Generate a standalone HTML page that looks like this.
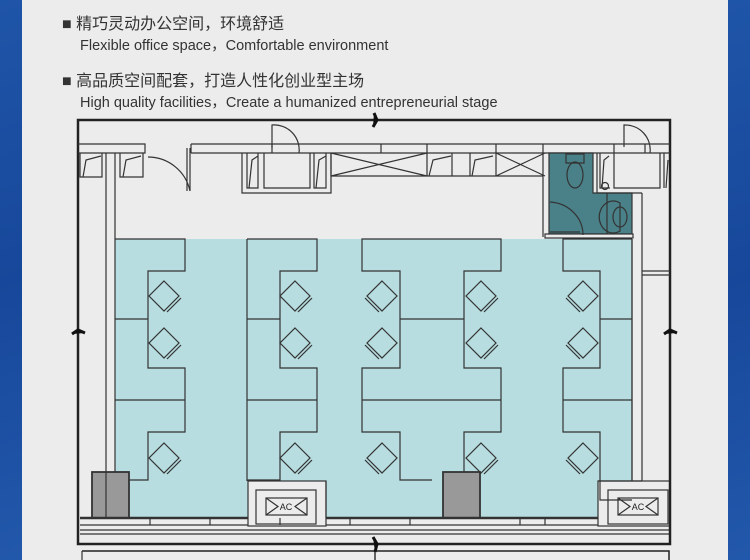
<!DOCTYPE html>
<html><head><meta charset="utf-8"><style>
html,body{margin:0;padding:0;width:750px;height:560px;overflow:hidden;background:#ececec;}
.t{position:absolute;font-family:"Liberation Sans","Noto Sans CJK SC",sans-serif;color:#333;white-space:nowrap}
</style></head><body>
<div style="position:absolute;left:0;top:0;width:22px;height:560px;background:linear-gradient(160deg,#1f55a8,#17479a 50%,#2258ab)"></div>
<div style="position:absolute;left:728px;top:0;width:22px;height:560px;background:linear-gradient(160deg,#1f55a8,#17479a 50%,#2258ab)"></div>
<div class="t" style="left:62px;top:10px;font-size:16px;color:#333">■ 精巧灵动办公空间，环境舒适</div>
<div class="t" style="left:80px;top:34px;font-size:14.5px">Flexible office space，Comfortable environment</div>
<div class="t" style="left:62px;top:67px;font-size:16px;color:#333">■ 高品质空间配套，打造人性化创业型主场</div>
<div class="t" style="left:80px;top:91px;font-size:14.5px">High quality facilities，Create a humanized entrepreneurial stage</div>
<svg style="position:absolute;left:0;top:0" width="750" height="560" viewBox="0 0 750 560">
<defs>
<g id="ch" fill="none" stroke="#333" stroke-width="1.2"><path d="M0 -15L15 0L0 15L-15 0Z"/><path d="M3 16L17 2"/></g>
<g id="chm" fill="none" stroke="#333" stroke-width="1.2"><path d="M0 -15L15 0L0 15L-15 0Z"/><path d="M-3 16L-17 2"/></g>
</defs>
<g fill="none" stroke="#333" stroke-width="1.2">
<rect x="115" y="239" width="517" height="279" fill="#b7dde0" stroke="none"/>
<rect x="248" y="481" width="78" height="45" fill="#ececec"/>
<rect x="598" y="481" width="72" height="45" fill="#ececec"/>
<rect x="256" y="490" width="60" height="34" fill="#ececec"/>
<rect x="608" y="490" width="60" height="34" fill="#ececec"/>
<rect x="266" y="498" width="41" height="17"/><path d="M266 498l12 8.5l-12 8.5M307 498l-12 8.5l12 8.5"/>
<rect x="618" y="498" width="40" height="17"/><path d="M618 498l12 8.5l-12 8.5M658 498l-12 8.5l12 8.5"/>
<g id="gL"><path d="M115 239H185V271H148V368H185V400H115M115 319H148M185 400V432H148V480H115"/></g>
<use href="#gL" transform="translate(132,0)"/>
<path d="M432 239H362V271H400V368H362V400H432M432 319H400M362 400V432H400V480H432"/>
<path d="M432 239H501V271H464V368H501V400H432M432 319H464M501 400V432H464V480H443"/>
<path d="M632 239H563V271H600V368H563V400H632M632 319H600M563 400V432H600V500H632"/>
<path d="M115 239V518M247 239V481M326 481V518M632 239V481"/>
<use href="#ch" x="164" y="296"/><use href="#ch" x="164" y="343"/><use href="#ch" x="164" y="458"/>
<use href="#ch" x="295" y="296"/><use href="#ch" x="295" y="343"/><use href="#ch" x="295" y="458"/>
<use href="#ch" x="481" y="296"/><use href="#ch" x="481" y="343"/><use href="#ch" x="481" y="458"/>
<use href="#chm" x="382" y="296"/><use href="#chm" x="382" y="343"/><use href="#chm" x="382" y="458"/>
<use href="#chm" x="583" y="296"/><use href="#chm" x="583" y="343"/><use href="#chm" x="583" y="458"/>
<rect x="92" y="472" width="37" height="46" fill="#999" stroke-width="1.8"/>
<rect x="443" y="472" width="37" height="46" fill="#999" stroke-width="1.8"/>
<path d="M80 518H248M326 518H598" stroke-width="2.5"/>
<path d="M80 525H248M326 525H598M80 530H670M80 534H670"/>
<path d="M150 518v7M210 518v7M280 518v7M350 518v7M410 518v7M520 518v7M545 518v7"/>
<path d="M78 120H670V544H78Z" stroke="#222" stroke-width="2.5"/>
<path d="M82 551H669V560" stroke="#222" stroke-width="1.5"/><path d="M82 551V560"/>
<g stroke="#111" stroke-width="3" fill="#111"><path d="M374 113L377 120L373 127"/><path d="M72 334L78 330L85 333"/><path d="M664 334L670 330L677 333"/><path d="M373 537L377 544L375 552"/></g>
<path d="M375 552V560" stroke-width="1.5"/>
<path d="M106 153V518M115 153V239"/>
<path d="M78 144H145V153H78M80 153V177H102V153M120 153V177H143V153M83 177L86 160L101 156M123 177L126 160L141 156"/>
<path d="M148 157A43 43 0 0 1 190 191M190 148V191M187 148V191"/>
<path d="M191 144H670M191 153H670M191 144V153M272 144V153M381 144V153M427 144V153M496 144V153M543 144V153M614 144V153M645 144V153"/>
<path d="M272 148V125A25 25 0 0 1 299 153"/>
<path d="M242 153V193H331V153M247 153V188H258V153M264 153V188H310V153M314 153V188H326V153M249 188L252 160L258 156M316 188L319 160L326 156"/>
<path d="M331 153V176H543M331 153L427 176M331 176L427 153M427 153V176M452 153V176M470 153V176M496 153V176M496 153L545 176M496 176L545 153M429 176L433 160L451 156M472 176L475 160L493 156"/>
<path d="M543 153V237"/>
<path d="M549 153H593V193H632V234H549Z" fill="#4a8088"/>
<path d="M607 193V234"/>
<rect x="545" y="234" width="88" height="4" fill="#ececec"/>
<path d="M566 154H584V163H566Z"/><ellipse cx="575" cy="175" rx="8" ry="13"/>
<path d="M550 202A35 33 0 0 1 583 235M550 232H580"/>
<circle cx="605" cy="186" r="3.5"/>
<path d="M620 203A14 16 0 1 0 620 231Z"/><ellipse cx="620" cy="217" rx="7" ry="10"/>
<path d="M597 153V193M597 193H642M642 193V481M632 239V481M642 271H670M642 275H670M642 481H598"/>
<path d="M614 153V188H660V153M600 153V188H610M664 153V188M602 188L604 160L609 156M666 188L668 160"/>
<path d="M624 147V125A25 25 0 0 1 650 153"/>
</g>
<g font-family="Liberation Sans, sans-serif" font-size="9" fill="#222" text-anchor="middle"><text x="286" y="510">AC</text><text x="638" y="510">AC</text></g>
</svg>
</body></html>
